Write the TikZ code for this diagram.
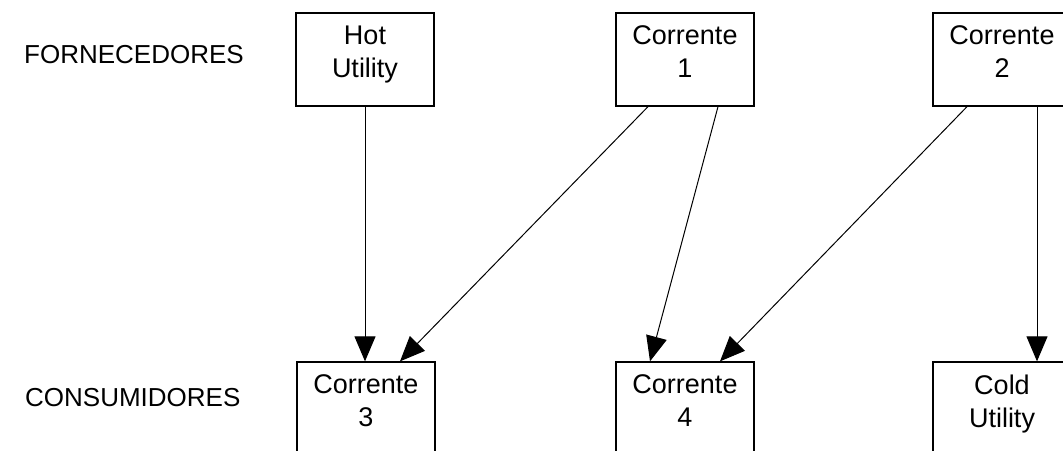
\documentclass[tikz,border=0pt]{standalone}
\usepackage{fontspec}
\setmainfont{Liberation Sans}
\usetikzlibrary{arrows.meta,calc}

\tikzset{
  unitbox/.style={draw=black, line width=1.3pt, minimum width=138pt,
    minimum height=93pt, inner sep=0pt, fill=white},
  boxtext/.style={anchor=north, inner sep=0pt, align=center,
    font=\fontsize{27}{33}\selectfont},
  rowlabel/.style={anchor=west, inner sep=0pt,
    font=\fontsize{26}{31}\selectfont},
  flow/.style={line width=1pt, -{Triangle[length=25pt,width=21pt]}}
}

\begin{document}
\begin{tikzpicture}[x=1pt,y=1pt]
  \useasboundingbox (0,0) rectangle (1063,450);
  \clip (0,0) rectangle (1063,450);
  \fill[white] (0,0) rectangle (1063,450);

  % row labels
  \node[rowlabel] (forn) at (24,395) {FORNECEDORES};
  \node[rowlabel] (cons) at (25,52) {CONSUMIDORES};

  % suppliers (top row)
  \node[unitbox] (hot) at (365,390.5) {};
  \node[unitbox] (c1)  at (685,390.5) {};
  \node[unitbox] (c2)  at (1002,390.5) {};
  % consumers (bottom row, running past the lower edge)
  \node[unitbox] (c3)   at (366,41.5) {};
  \node[unitbox] (c4)   at (685,41.5) {};
  \node[unitbox] (cold) at (1002,41.5) {};

  \node[boxtext] (thot)  at ($(hot.north)+(0,-13.5)$)  {Hot\\Utility};
  \node[boxtext] (tc1)   at ($(c1.north)+(0,-13.5)$)   {Corrente\\1};
  \node[boxtext] (tc2)   at ($(c2.north)+(0,-13.5)$)   {Corrente\\2};
  \node[boxtext] (tc3)   at ($(c3.north)+(0,-13.5)$)   {Corrente\\3};
  \node[boxtext] (tc4)   at ($(c4.north)+(0,-13.5)$)   {Corrente\\4};
  \node[boxtext] (tcold) at ($(cold.north)+(0,-13.5)$) {Cold\\Utility};

  % heat exchange connections
  \draw[flow] (hot.south) -- (hot.south |- c3.north);
  \draw[flow] ($(c1.south)+(-37,0)$) -- ($(c3.north)+(34,0)$);
  \draw[flow] ($(c1.south)+(33,0)$)  -- ($(c4.north)+(-35,0)$);
  \draw[flow] ($(c2.south)+(-35,0)$) -- ($(c4.north)+(35,0)$);
  \draw[flow] ($(c2.south)+(35,0)$)  -- ($(cold.north)+(35,0)$);
\end{tikzpicture}
\end{document}
